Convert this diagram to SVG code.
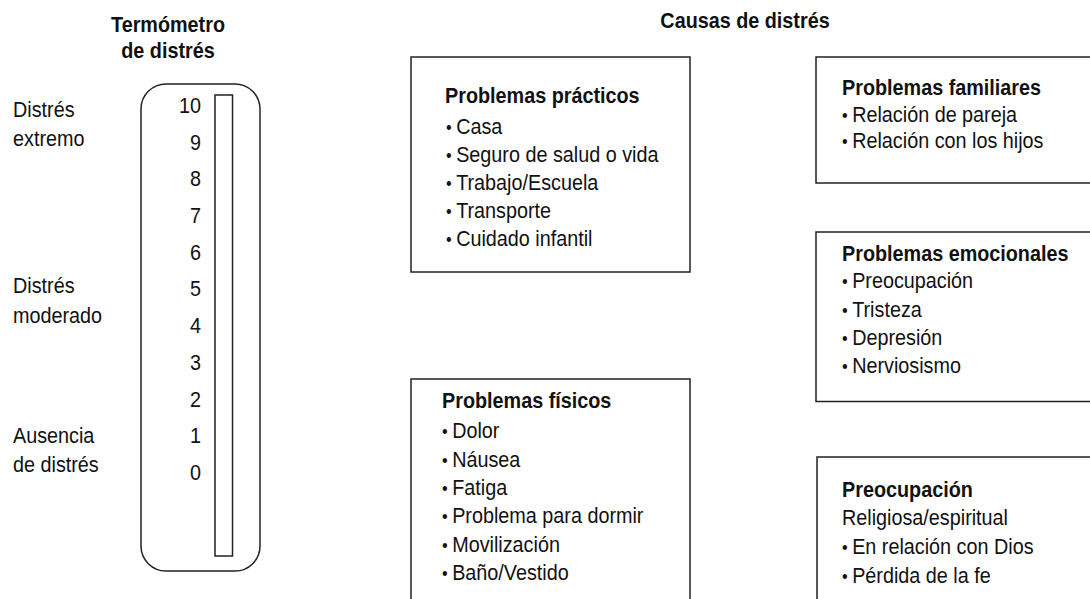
<svg xmlns="http://www.w3.org/2000/svg" width="1090" height="599" viewBox="0 0 1090 599">
<style>
text{font-family:"Liberation Sans",Arial,sans-serif;font-size:22px;fill:#111}
.b{font-weight:bold}
.box{fill:#fff;stroke:#222;stroke-width:1.5}
.c{text-anchor:middle}
.r{text-anchor:end}
.d{font-size:18px}
</style>
<rect width="1090" height="599" fill="#fff"/>
<g id="headers">
<text class="b c" transform="translate(168 32) scale(.9 1)">Termómetro</text>
<text class="b c" transform="translate(168 58) scale(.9 1)">de distrés</text>
<text class="b c" transform="translate(745 28) scale(.9 1)">Causas de distrés</text>
</g>
<g id="levels">
<text transform="translate(13 117) scale(.9 1)">Distrés</text>
<text transform="translate(13 146) scale(.9 1)">extremo</text>
<text transform="translate(13 293) scale(.9 1)">Distrés</text>
<text transform="translate(13 323) scale(.9 1)">moderado</text>
<text transform="translate(13 443) scale(.9 1)">Ausencia</text>
<text transform="translate(13 472) scale(.9 1)">de distrés</text>
</g>
<g id="thermometer">
<rect class="box" x="141" y="84" width="119" height="487" rx="25" ry="25"/>
<rect class="box" x="215" y="95" width="17.5" height="461"/>
<text class="r" transform="translate(201 113) scale(.9 1)">10</text>
<text class="r" transform="translate(201 150) scale(.9 1)">9</text>
<text class="r" transform="translate(201 186) scale(.9 1)">8</text>
<text class="r" transform="translate(201 223) scale(.9 1)">7</text>
<text class="r" transform="translate(201 260) scale(.9 1)">6</text>
<text class="r" transform="translate(201 296) scale(.9 1)">5</text>
<text class="r" transform="translate(201 333) scale(.9 1)">4</text>
<text class="r" transform="translate(201 370) scale(.9 1)">3</text>
<text class="r" transform="translate(201 407) scale(.9 1)">2</text>
<text class="r" transform="translate(201 443) scale(.9 1)">1</text>
<text class="r" transform="translate(201 480) scale(.9 1)">0</text>
</g>
<g id="practicos">
<rect class="box" x="411" y="57" width="279" height="215"/>
<text class="b" transform="translate(445 103) scale(.9 1)">Problemas prácticos</text>
<text transform="translate(446 134) scale(.9 1)"><tspan class="d">• </tspan>Casa</text>
<text transform="translate(446 162) scale(.9 1)"><tspan class="d">• </tspan>Seguro de salud o vida</text>
<text transform="translate(446 190) scale(.9 1)"><tspan class="d">• </tspan>Trabajo/Escuela</text>
<text transform="translate(446 218) scale(.9 1)"><tspan class="d">• </tspan>Transporte</text>
<text transform="translate(446 246) scale(.9 1)"><tspan class="d">• </tspan>Cuidado infantil</text>
</g>
<g id="fisicos">
<rect class="box" x="411" y="379" width="279" height="240"/>
<text class="b" transform="translate(442 408) scale(.9 1)">Problemas físicos</text>
<text transform="translate(442 438) scale(.9 1)"><tspan class="d">• </tspan>Dolor</text>
<text transform="translate(442 467) scale(.9 1)"><tspan class="d">• </tspan>Náusea</text>
<text transform="translate(442 495) scale(.9 1)"><tspan class="d">• </tspan>Fatiga</text>
<text transform="translate(442 523) scale(.9 1)"><tspan class="d">• </tspan>Problema para dormir</text>
<text transform="translate(442 552) scale(.9 1)"><tspan class="d">• </tspan>Movilización</text>
<text transform="translate(442 580) scale(.9 1)"><tspan class="d">• </tspan>Baño/Vestido</text>
</g>
<g id="familiares">
<rect class="box" x="816" y="57" width="300" height="126"/>
<text class="b" transform="translate(842 95) scale(.9 1)">Problemas familiares</text>
<text transform="translate(842 122) scale(.9 1)"><tspan class="d">• </tspan>Relación de pareja</text>
<text transform="translate(842 148) scale(.9 1)"><tspan class="d">• </tspan>Relación con los hijos</text>
</g>
<g id="emocionales">
<rect class="box" x="816" y="232" width="300" height="169.5"/>
<text class="b" transform="translate(842 261) scale(.9 1)">Problemas emocionales</text>
<text transform="translate(842 288) scale(.9 1)"><tspan class="d">• </tspan>Preocupación</text>
<text transform="translate(842 317) scale(.9 1)"><tspan class="d">• </tspan>Tristeza</text>
<text transform="translate(842 345) scale(.9 1)"><tspan class="d">• </tspan>Depresión</text>
<text transform="translate(842 373) scale(.9 1)"><tspan class="d">• </tspan>Nerviosismo</text>
</g>
<g id="espiritual">
<rect class="box" x="817" y="457" width="300" height="160"/>
<text class="b" transform="translate(842 497) scale(.9 1)">Preocupación</text>
<text transform="translate(842 525) scale(.9 1)">Religiosa/espiritual</text>
<text transform="translate(842 554) scale(.9 1)"><tspan class="d">• </tspan>En relación con Dios</text>
<text transform="translate(842 583) scale(.9 1)"><tspan class="d">• </tspan>Pérdida de la fe</text>
</g>
<g id="connectors"/>
</svg>
